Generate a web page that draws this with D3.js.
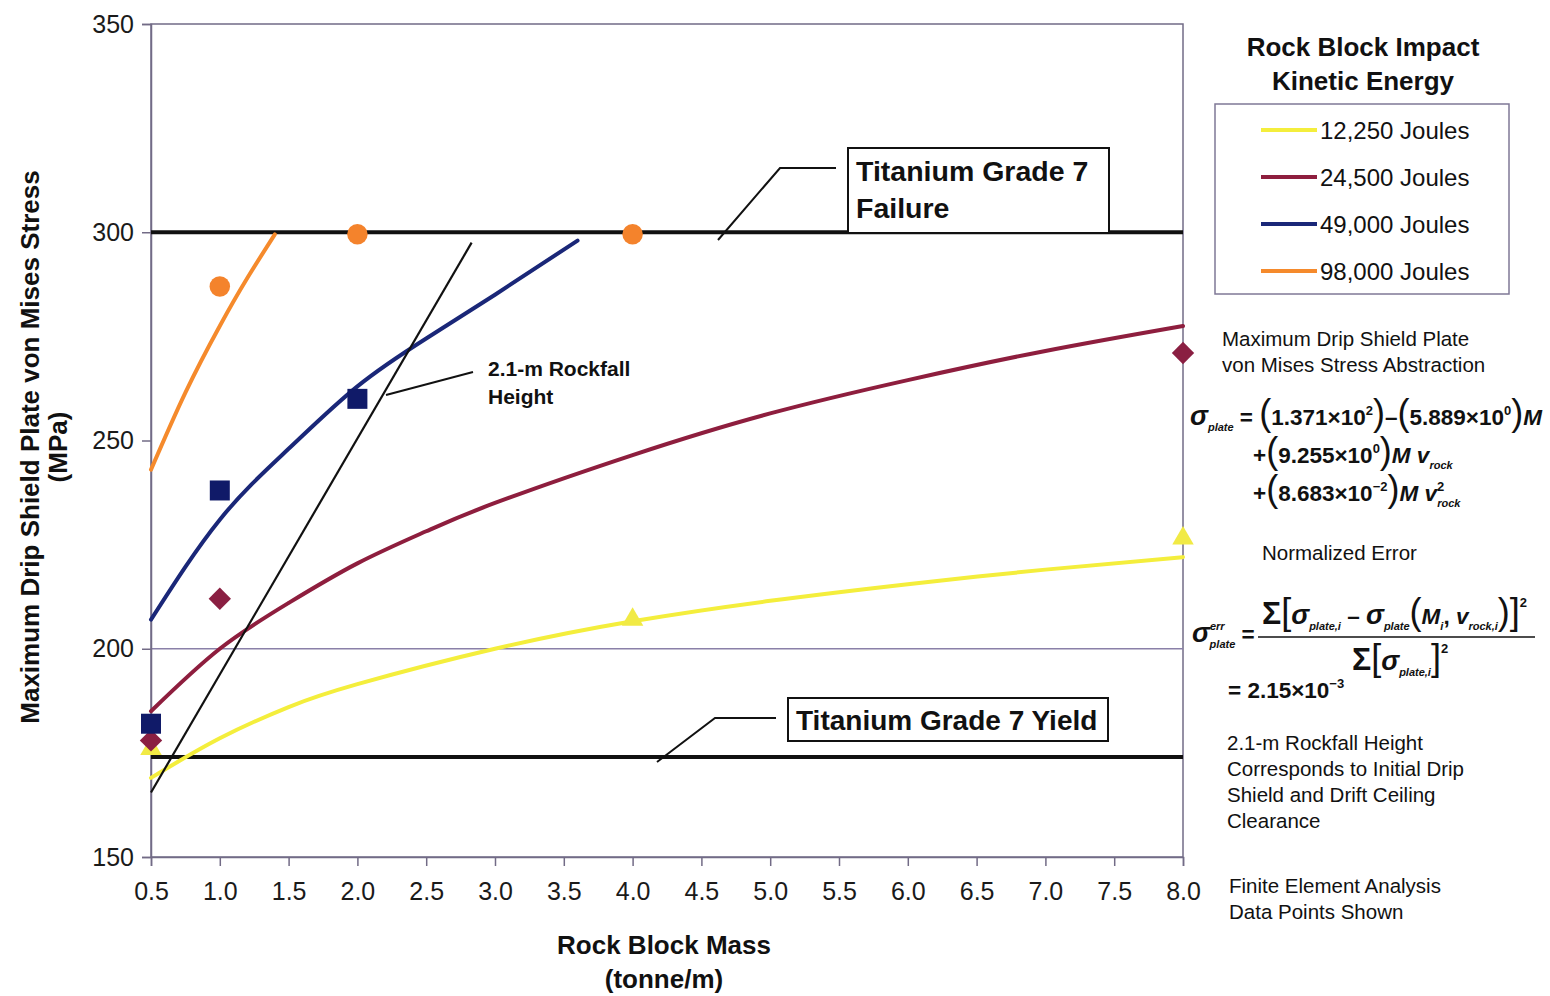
<!DOCTYPE html>
<html>
<head>
<meta charset="utf-8">
<script src="https://cdn.jsdelivr.net/npm/d3@7/dist/d3.min.js"></script>
<style>
  html, body { margin: 0; padding: 0; background: #fff; }
  svg { display: block; font-family: "Liberation Sans", Arial, sans-serif; }
</style>
</head>
<body>
<svg id="chart" width="1550" height="996"></svg>
<script>
// ---- data ----
const massTicks = [0.5, 1.0, 1.5, 2.0, 2.5, 3.0, 3.5, 4.0, 4.5, 5.0, 5.5, 6.0, 6.5, 7.0, 7.5, 8.0];
const stressTicks = [150, 200, 250, 300, 350];
const gridStress = [200];

const energyLabels = ["12,250 Joules", "24,500 Joules", "49,000 Joules", "98,000 Joules"];
const energyColors = ["#f4ee3c", "#8e1e3e", "#1a2778", "#f58a2c"];
const markerColors = ["#f1ea45", "#8a1f42", "#101a68", "#f4832c"];
const markerShapes = ["triangle", "diamond", "square", "circle"];

// abstraction curves: [mass (tonne/m), stress (MPa)]
const fit12250 = [[0.5, 169], [1.0, 178.5], [1.5, 186], [2.0, 191.5], [3.0, 200], [4.0, 206.6], [5.0, 211.5], [6.0, 215.5], [7.0, 219], [8.0, 222]];
const fit24500 = [[0.5, 185], [1.0, 200], [1.5, 211], [2.0, 220.5], [2.5, 228.2], [3.0, 235], [4.0, 246.5], [5.0, 256.5], [6.0, 264.5], [7.0, 271.5], [8.0, 277.5]];
const fit49000 = [[0.5, 207], [1.0, 231], [1.5, 248], [2.0, 263], [2.5, 274.5], [3.0, 285], [3.6, 298]];
const fit98000 = [[0.5, 243], [0.75, 261.5], [1.0, 277.5], [1.2, 289], [1.4, 299.5]];

// finite element analysis results
const fea12250 = [[0.5, 176], [4.0, 207], [8.0, 226.5]];
const fea24500 = [[0.5, 178], [1.0, 212], [8.0, 271]];
const fea49000 = [[0.5, 182], [1.0, 238], [2.0, 260]];
const fea98000 = [[1.0, 287], [2.0, 299.5], [4.0, 299.5]];

const rockfall21m = [[0.5, 165.5], [2.83, 297.5]];
const failureStress = 300;
const yieldStress = 174;

const fits = [fit12250, fit24500, fit49000, fit98000];
const feas = [fea12250, fea24500, fea49000, fea98000];

// ---- layout ----
const svg = d3.select("#chart");
const x = d3.scaleLinear().domain([0.5, 8.0]).range([151, 1183]);
const y = d3.scaleLinear().domain([150, 350]).range([857, 24]);
const axisCol = "#726b86";
const FONT = '"Liberation Sans", Arial, sans-serif';

// plot frame
svg.append("rect")
  .attr("x", x(0.5)).attr("y", y(350))
  .attr("width", x(8) - x(0.5)).attr("height", y(150) - y(350))
  .attr("fill", "none").attr("stroke", axisCol).attr("stroke-width", 1.5);

// gridlines
svg.append("g").selectAll("line").data(gridStress).join("line")
  .attr("x1", x(0.5)).attr("x2", x(8))
  .attr("y1", d => y(d)).attr("y2", d => y(d))
  .attr("stroke", "#8a80a8").attr("stroke-width", 1.5);

// axes
const yAxis = svg.append("g").attr("transform", `translate(${x(0.5)},0)`)
  .call(d3.axisLeft(y).tickValues(stressTicks).tickSize(9).tickPadding(8).tickFormat(d3.format("d")));
const xAxis = svg.append("g").attr("transform", `translate(0,${y(150)})`)
  .call(d3.axisBottom(x).tickValues(massTicks).tickSize(9).tickPadding(16).tickFormat(d3.format(".1f")));
[yAxis, xAxis].forEach(a => {
  a.selectAll("path, line").attr("stroke", axisCol).attr("stroke-width", 1.5);
  a.selectAll("text").attr("fill", "#1a1a1a").style("font-size", "25px").style("font-family", FONT);
});

// material limit lines
[failureStress, yieldStress].forEach(v => {
  svg.append("line")
    .attr("x1", x(0.5)).attr("x2", x(8))
    .attr("y1", y(v)).attr("y2", y(v))
    .attr("stroke", "#111").attr("stroke-width", 4);
});

// abstraction curves
const line = d3.line().x(d => x(d[0])).y(d => y(d[1])).curve(d3.curveNatural);
fits.forEach((f, i) => {
  svg.append("path").datum(f).attr("d", line)
    .attr("fill", "none").attr("stroke", energyColors[i])
    .attr("stroke-width", 4).attr("stroke-linecap", "round");
});

// 2.1-m rockfall height line
svg.append("path").datum(rockfall21m).attr("d", d3.line().x(d => x(d[0])).y(d => y(d[1])))
  .attr("fill", "none").attr("stroke", "#111").attr("stroke-width", 2.2);

// FEA markers
const symbolOf = {
  triangle: { gen: d3.symbol().type(d3.symbolTriangle).size(200), rot: 0 },
  diamond: { gen: d3.symbol().type(d3.symbolSquare).size(250), rot: 45 },
  square: { gen: d3.symbol().type(d3.symbolSquare).size(400), rot: 0 },
  circle: { gen: d3.symbol().type(d3.symbolCircle).size(330), rot: 0 }
};
feas.forEach((pts, i) => {
  const s = symbolOf[markerShapes[i]];
  svg.append("g").selectAll("path").data(pts).join("path")
    .attr("transform", d => `translate(${x(d[0])},${y(d[1])}) rotate(${s.rot})`)
    .attr("d", s.gen)
    .attr("fill", markerColors[i]);
});

// ---- annotations ----
function bold(t, px) {
  return t.style("font-family", FONT).style("font-weight", "bold").style("font-size", px + "px").attr("fill", "#111");
}

// failure callout
svg.append("polyline").attr("points", "718,240 780,168 836,168")
  .attr("fill", "none").attr("stroke", "#111").attr("stroke-width", 2);
svg.append("rect").attr("x", 848).attr("y", 148).attr("width", 261).attr("height", 85)
  .attr("fill", "#fff").attr("stroke", "#111").attr("stroke-width", 2);
bold(svg.append("text").attr("x", 856).attr("y", 181).text("Titanium Grade 7"), 28.5);
bold(svg.append("text").attr("x", 856).attr("y", 218).text("Failure"), 28.5);

// yield callout
svg.append("polyline").attr("points", "657,762 715,718 776,718")
  .attr("fill", "none").attr("stroke", "#111").attr("stroke-width", 2);
svg.append("rect").attr("x", 788).attr("y", 698).attr("width", 320).attr("height", 43)
  .attr("fill", "#fff").attr("stroke", "#111").attr("stroke-width", 2);
bold(svg.append("text").attr("x", 796).attr("y", 730).text("Titanium Grade 7 Yield"), 28);

// rockfall callout
svg.append("line").attr("x1", 386).attr("y1", 395).attr("x2", 473).attr("y2", 372)
  .attr("stroke", "#111").attr("stroke-width", 2);
bold(svg.append("text").attr("x", 488).attr("y", 376).text("2.1-m Rockfall"), 21);
bold(svg.append("text").attr("x", 488).attr("y", 404).text("Height"), 21);

// axis titles
bold(svg.append("text").attr("x", 664).attr("y", 954).attr("text-anchor", "middle").text("Rock Block Mass"), 26);
bold(svg.append("text").attr("x", 664).attr("y", 988).attr("text-anchor", "middle").text("(tonne/m)"), 26);
bold(svg.append("text").attr("transform", "translate(39,447) rotate(-90)").attr("text-anchor", "middle")
  .text("Maximum Drip Shield Plate von Mises Stress"), 26);
bold(svg.append("text").attr("transform", "translate(67,447) rotate(-90)").attr("text-anchor", "middle")
  .text("(MPa)"), 26);

// legend
bold(svg.append("text").attr("x", 1363).attr("y", 56).attr("text-anchor", "middle").text("Rock Block Impact"), 26);
bold(svg.append("text").attr("x", 1363).attr("y", 90).attr("text-anchor", "middle").text("Kinetic Energy"), 26);
svg.append("rect").attr("x", 1215).attr("y", 104).attr("width", 294).attr("height", 190)
  .attr("fill", "#fff").attr("stroke", "#7f7896").attr("stroke-width", 1.5);
const legendY = d3.scalePoint().domain(energyLabels).range([130, 271]);
energyLabels.forEach((lab, i) => {
  svg.append("line").attr("x1", 1261).attr("x2", 1317)
    .attr("y1", legendY(lab)).attr("y2", legendY(lab))
    .attr("stroke", energyColors[i]).attr("stroke-width", 4);
  svg.append("text").attr("x", 1320).attr("y", legendY(lab) + 9).text(lab)
    .style("font-family", FONT).style("font-size", "24px").attr("fill", "#111");
});

// notes on the right
function note(lines, x0, y0, step) {
  lines.forEach((s, i) => {
    svg.append("text").attr("x", x0).attr("y", y0 + i * step).text(s)
      .style("font-family", FONT).style("font-size", "20.5px").attr("fill", "#111");
  });
}
note(["Maximum Drip Shield Plate", "von Mises Stress Abstraction"], 1222, 346, 26);
note(["Normalized Error"], 1262, 560, 26);
note(["2.1-m Rockfall Height", "Corresponds to Initial Drip", "Shield and Drift Ceiling", "Clearance"], 1227, 750, 26);
note(["Finite Element Analysis", "Data Points Shown"], 1229, 893, 26);

// equation typesetting with shifted tspans
function eq(x0, y0, parts, anchor) {
  const t = svg.append("text").attr("x", x0).attr("y", y0)
    .attr("text-anchor", anchor || "start")
    .style("font-family", FONT).style("font-weight", "bold").attr("fill", "#111");
  let cur = 0;
  parts.forEach(p => {
    const s = typeof p === "string" ? p : p[0];
    const o = typeof p === "string" ? {} : (p[1] || {});
    const sh = o.sh || 0;
    const ts = t.append("tspan").attr("dy", cur - sh).text(s)
      .style("font-size", (o.sz || 22.5) + "px")
      .style("font-style", o.it ? "italic" : "normal")
      .style("font-weight", o.w || "bold");
    if (o.dx) ts.attr("dx", o.dx);
    cur = sh;
  });
  return t;
}
const P = s => [s, { sz: 36, w: "normal" }];
const sub = (s, dx) => [s, { sz: 11, it: true, sh: -6, dx: dx }];
const sup = (s, dx) => [s, { sz: 13, sh: 10, dx: dx }];

eq(1190, 425, [["σ", { sz: 27, it: true }], sub("plate"), " = ", P("("), "1.371×10", sup("2"), P(")"), "–", P("("),
  "5.889×10", sup("0"), P(")"), ["M", { it: true }]]);
eq(1253, 463, ["+", P("("), "9.255×10", sup("0"), P(")"), ["M v", { it: true }], sub("rock")]);
eq(1253, 501, ["+", P("("), "8.683×10", sup("−2"), P(")"), ["M v", { it: true }], sup("2"), sub("rock", -7)]);

// normalized error expression
eq(1192, 642, [["σ", { sz: 27, it: true }], ["err", { sz: 11, it: true, sh: 12 }], sub("plate", -15), " ="]);
eq(1262, 624, [["Σ", { sz: 32 }], P("["), ["σ", { sz: 27, it: true }], sub("plate,i"), " – ", ["σ", { sz: 27, it: true }], sub("plate"),
  P("("), ["M", { it: true }], sub("i"), ", ", ["v", { it: true }], sub("rock,i"), P(")"), P("]"), ["2", { sz: 13, sh: 17 }]]);
svg.append("line").attr("x1", 1258).attr("x2", 1535).attr("y1", 637).attr("y2", 637)
  .attr("stroke", "#111").attr("stroke-width", 1.6);
eq(1352, 670, [["Σ", { sz: 32 }], P("["), ["σ", { sz: 27, it: true }], sub("plate,i"), P("]"), ["2", { sz: 13, sh: 17 }]]);
eq(1228, 698, ["= 2.15×10", sup("−3")]);
</script>
</body>
</html>
